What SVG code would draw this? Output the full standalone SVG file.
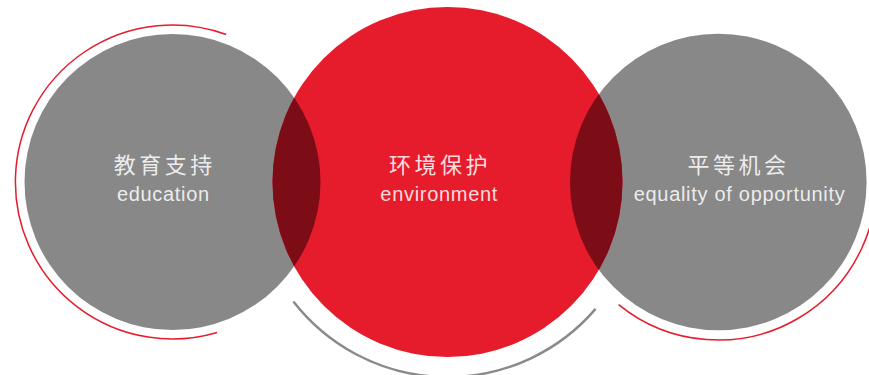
<svg xmlns="http://www.w3.org/2000/svg" width="869" height="375" viewBox="0 0 869 375">
  <style>
    .grey { fill: #888888; }
    .red { fill: #e61b2b; }
    .overlap { fill: #7c0d17; }
    .ring-red { fill: none; stroke: #e61b2b; stroke-width: 1.5; }
    .ring-grey { fill: none; stroke: #8a8a8a; stroke-width: 2.5; }
    .zh { font-family: "Noto Sans CJK SC", "Noto Sans", sans-serif; font-size: 22px; letter-spacing: 3.5px; fill: #ffffff; fill-opacity: 0.86; text-anchor: middle; }
    .en { font-family: "Liberation Sans", Arial, sans-serif; font-size: 20px; letter-spacing: 0.7px; fill: #ffffff; fill-opacity: 0.86; text-anchor: middle; }
  </style>
  <defs>
    <clipPath id="clip-center">
      <circle cx="447.5" cy="182" r="175"/>
    </clipPath>
  </defs>
  <rect width="869" height="375" fill="#ffffff"/>

  <!-- decorative outer arcs -->
  <g id="connectors">
    <path class="ring-red" d="M 226.2 34.5 A 157 157 0 1 0 217.1 332.5"/>
    <path class="ring-grey" d="M 293.4 301.5 A 195 195 0 0 0 595.6 308.9"/>
    <path class="ring-red" d="M 618.6 304.6 A 158 158 0 0 0 873.9 154.6"/>
  </g>

  <g id="node-education">
    <circle class="grey" cx="172.5" cy="182" r="148"/>
  </g>
  <g id="node-equality">
    <circle class="grey" cx="718.3" cy="182" r="148.3"/>
  </g>
  <g id="node-environment">
    <circle class="red" cx="447.5" cy="182" r="175"/>
    <!-- overlaps with the two grey circles -->
    <g clip-path="url(#clip-center)">
      <circle class="overlap" cx="172.5" cy="182" r="148"/>
      <circle class="overlap" cx="718.3" cy="182" r="148.3"/>
    </g>
  </g>

  <g id="labels">
    <text class="zh" x="164.8" y="173">教育支持</text>
    <text class="en" x="163.4" y="200.5">education</text>
    <text class="zh" x="440" y="173">环境保护</text>
    <text class="en" x="439.2" y="200.5">environment</text>
    <text class="zh" x="738.5" y="173">平等机会</text>
    <text class="en" x="739.6" y="200.5">equality of opportunity</text>
  </g>
</svg>
